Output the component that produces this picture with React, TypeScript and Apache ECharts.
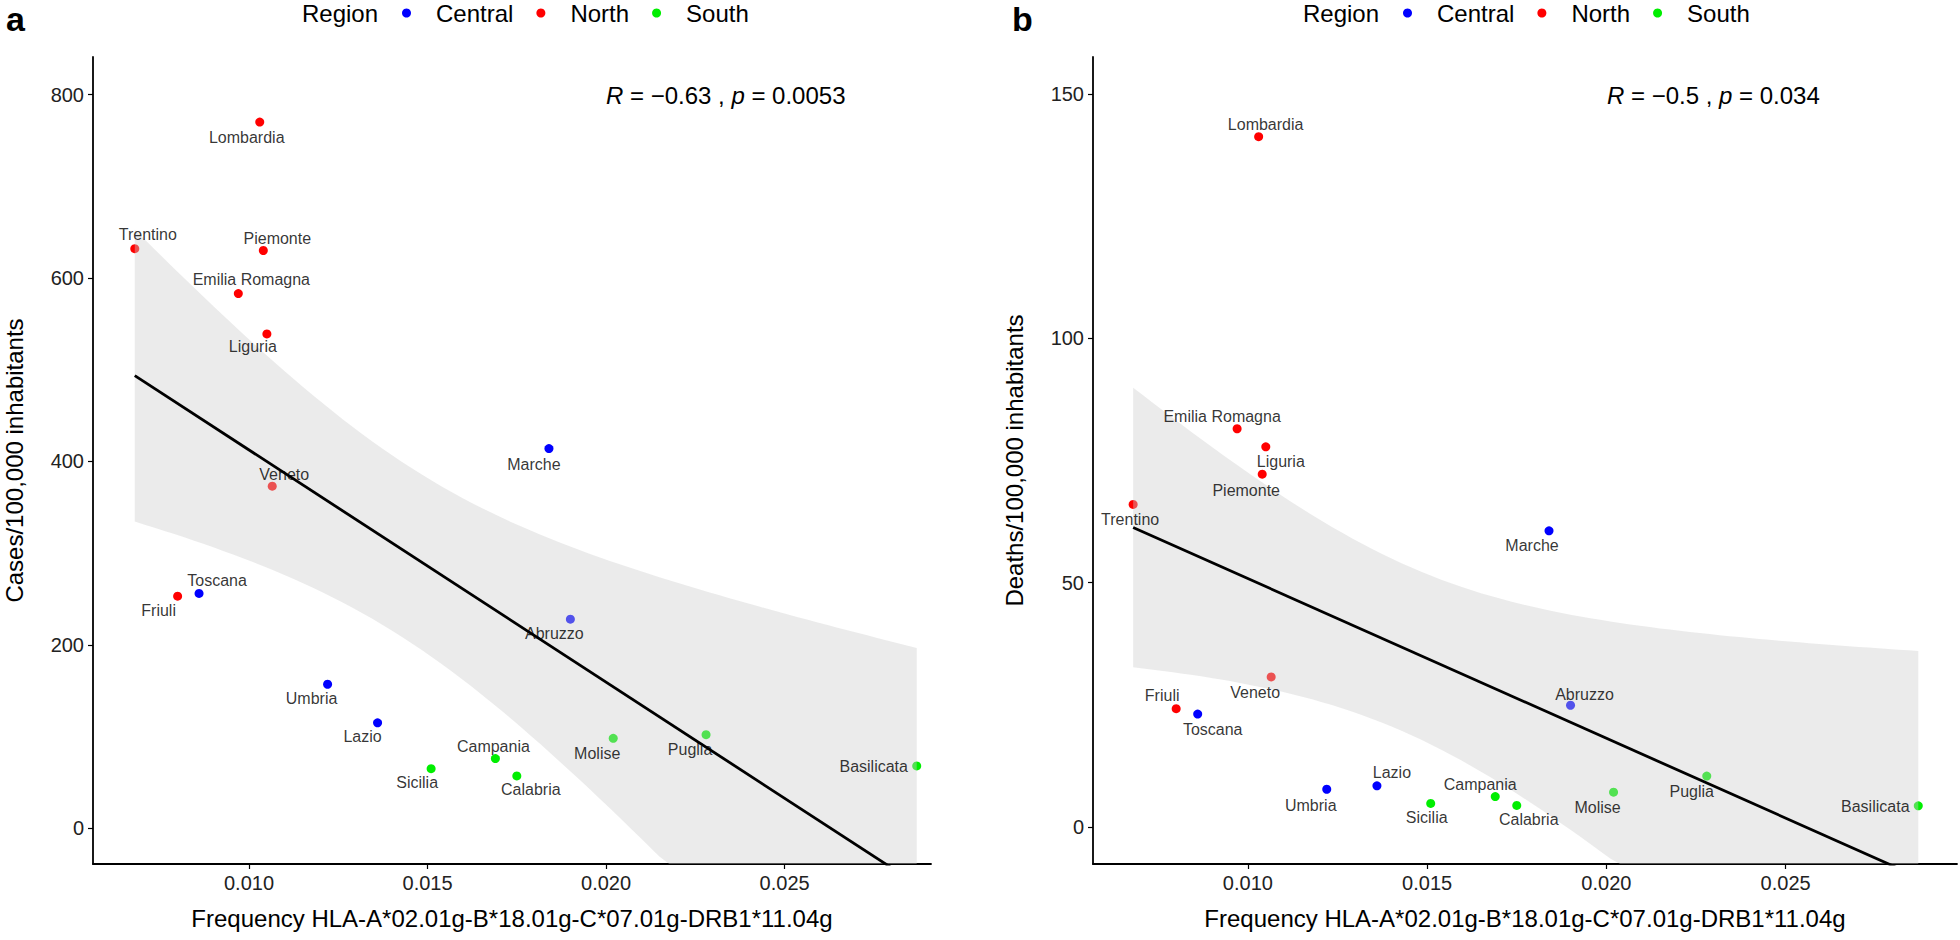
import React, { useEffect, useRef } from "react";
import * as echarts from "echarts";

// ---------------- data ----------------
const regions = [
  "Lombardia", "Trentino", "Piemonte", "Emilia Romagna", "Liguria", "Marche",
  "Veneto", "Toscana", "Friuli", "Abruzzo", "Umbria", "Lazio",
  "Molise", "Puglia", "Campania", "Basilicata", "Sicilia", "Calabria",
];
const regionGroup = [
  "North", "North", "North", "North", "North", "Central",
  "North", "Central", "North", "Central", "Central", "Central",
  "South", "South", "South", "South", "South", "South",
];
const hlaFrequency = [
  0.0103, 0.0068, 0.0104, 0.0097, 0.0105, 0.0184,
  0.01065, 0.0086, 0.008, 0.019, 0.0122, 0.0136,
  0.0202, 0.0228, 0.0169, 0.0287, 0.0151, 0.0175,
];
const casesPer100k = [
  770, 632, 630, 583, 539, 414,
  373, 256, 253, 228, 157, 115,
  98, 102, 76, 68, 65, 57,
];
const deathsPer100k = [
  141.3, 66.0, 72.2, 81.5, 77.8, 60.6,
  30.7, 23.1, 24.2, 24.9, 7.7, 8.4,
  7.1, 10.4, 6.2, 4.3, 4.8, 4.4,
];
const groups = ["Central", "North", "South"];
const xTicks = [0.01, 0.015, 0.02, 0.025];
const casesTicks = [0, 200, 400, 600, 800];
const deathsTicks = [0, 50, 100, 150];
const corrA = { r: "\u22120.63", p: "0.0053" };
const corrB = { r: "\u22120.5", p: "0.034" };

// ---------------- layout / style (not data) ----------------
const FONT = "Liberation Sans, Arial, sans-serif";
const groupColor: Record<string, string> = { Central: "#0000FF", North: "#FF0000", South: "#00EE00" };
const labelOffsetA: Record<string, [number, number]> = {
  Lombardia: [-13, 15], Trentino: [13, -14], Piemonte: [14, -12], "Emilia Romagna": [13, -14],
  Liguria: [-14, 13], Marche: [-15, 16], Veneto: [12, -12], Toscana: [18, -13], Friuli: [-19, 14],
  Abruzzo: [-16, 14], Umbria: [-16, 14], Lazio: [-15, 14], Campania: [-2, -12], Sicilia: [-14, 14],
  Calabria: [14, 14], Molise: [-16, 15], Puglia: [-16, 15], Basilicata: [-43, 1],
};
const labelOffsetB: Record<string, [number, number]> = {
  Lombardia: [7, -12], "Emilia Romagna": [-15, -12], Liguria: [15, 15], Piemonte: [-16, 16],
  Trentino: [-3, 15], Marche: [-17, 15], Veneto: [-16, 16], Friuli: [-14, -13], Toscana: [15, 15],
  Abruzzo: [14, -11], Lazio: [15, -13], Umbria: [-16, 16], Campania: [-15, -12], Sicilia: [-4, 14],
  Calabria: [12, 14], Molise: [-16, 15], Puglia: [-15, 15], Basilicata: [-43, 1],
};

// ---------------- linear fit (geom_smooth method = "lm") ----------------
const T_975_DF16 = 2.1199;
function linearFit(xs: number[], ys: number[]) {
  const n = xs.length;
  const mx = xs.reduce((a, b) => a + b, 0) / n;
  const my = ys.reduce((a, b) => a + b, 0) / n;
  let sxx = 0, sxy = 0, syy = 0;
  for (let i = 0; i < n; i++) {
    sxx += (xs[i] - mx) ** 2;
    sxy += (xs[i] - mx) * (ys[i] - my);
    syy += (ys[i] - my) ** 2;
  }
  const b = sxy / sxx;
  const a = my - b * mx;
  const s = Math.sqrt((syy - b * sxy) / (n - 2));
  return { a, b, s, mx, sxx, n };
}
function fitCurves(xs: number[], ys: number[]) {
  const f = linearFit(xs, ys);
  const lo = Math.min(...xs), hi = Math.max(...xs);
  const rows: number[][] = [];
  const steps = 80;
  for (let i = 0; i < steps; i++) {
    const x = lo + ((hi - lo) * i) / (steps - 1);
    const yh = f.a + f.b * x;
    const se = f.s * Math.sqrt(1 / f.n + (x - f.mx) ** 2 / f.sxx);
    rows.push([x, yh - T_975_DF16 * se, yh + T_975_DF16 * se]);
  }
  const line = [[lo, f.a + f.b * lo], [hi, f.a + f.b * hi]];
  return { rows, line };
}

function buildPanel(idx: number, ys: number[], offsets: Record<string, [number, number]>) {
  const series: any[] = [];
  // points (drawn under the confidence band, as in ggplot)
  groups.forEach((g) => {
    const data: any[] = [];
    regions.forEach((name, i) => {
      if (regionGroup[i] !== g) return;
      data.push({ name, value: [hlaFrequency[i], ys[i]] });
    });
    series.push({
      type: "scatter",
      name: g,
      xAxisIndex: idx,
      yAxisIndex: idx,
      symbol: "circle",
      symbolSize: 9,
      z: 2,
      itemStyle: { color: groupColor[g], opacity: 1 },
      emphasis: { disabled: true },
      data,
    });
  });
  const { rows, line } = fitCurves(hlaFrequency, ys);
  // confidence band
  series.push({
    type: "custom",
    name: "band" + idx,
    xAxisIndex: idx,
    yAxisIndex: idx,
    z: 3,
    clip: true,
    silent: true,
    encode: { x: 0, y: 1 },
    data: rows,
    renderItem: (params: any, api: any) => {
      if (params.dataIndex !== 0) return null;
      const cs = params.coordSys;
      const clampY = (p: number[]) => [p[0], Math.max(cs.y, Math.min(cs.y + cs.height, p[1]))];
      const upper = rows.map((r) => clampY(api.coord([r[0], r[2]])));
      const lower = rows.map((r) => clampY(api.coord([r[0], r[1]]))).reverse();
      return {
        type: "polygon",
        shape: { points: upper.concat(lower) },
        style: { fill: "rgba(204,204,204,0.4)", stroke: null },
      };
    },
  });
  // text labels (above the band, below the fitted line)
  series.push({
    type: "scatter",
    name: "labels" + idx,
    xAxisIndex: idx,
    yAxisIndex: idx,
    symbol: "circle",
    symbolSize: 1,
    z: 4,
    silent: true,
    itemStyle: { color: "rgba(0,0,0,0)" },
    emphasis: { disabled: true },
    label: {
      show: true,
      position: "inside",
      formatter: "{b}",
      color: "#000",
      textBorderWidth: 0,
      fontSize: 16,
      fontFamily: FONT,
    },
    data: regions.map((name, i) => ({
      name,
      value: [hlaFrequency[i], ys[i]],
      label: { offset: offsets[name] || [0, 12] },
    })),
  });
  series.push({
    type: "line",
    name: "fit" + idx,
    xAxisIndex: idx,
    yAxisIndex: idx,
    z: 5,
    clip: true,
    silent: true,
    symbol: "none",
    lineStyle: { color: "#000", width: 2.8 },
    data: line,
  });
  return series;
}

function axisX(idx: number, min: number, max: number) {
  return {
    type: "value",
    gridIndex: idx,
    min,
    max,
    name: "Frequency HLA-A*02.01g-B*18.01g-C*07.01g-DRB1*11.04g",
    nameLocation: "middle",
    nameGap: 42,
    nameTextStyle: { fontSize: 24, color: "#000", fontFamily: FONT },
    axisLine: { show: true, onZero: false, lineStyle: { color: "#000", width: 1.8 } },
    axisTick: { show: true, length: 5, lineStyle: { color: "#000", width: 1.2 }, customValues: xTicks },
    axisLabel: {
      fontSize: 20,
      color: "#222",
      fontFamily: FONT,
      margin: 9,
      customValues: xTicks,
      formatter: (v: number) => v.toFixed(3),
    },
    splitLine: { show: false },
  };
}
function axisY(idx: number, min: number, max: number, ticks: number[], name: string) {
  return {
    type: "value",
    gridIndex: idx,
    min,
    max,
    name,
    nameLocation: "middle",
    nameGap: 67,
    nameTextStyle: { fontSize: 24, color: "#000", fontFamily: FONT },
    axisLine: { show: true, onZero: false, lineStyle: { color: "#000", width: 1.8 } },
    axisTick: { show: true, length: 5, lineStyle: { color: "#000", width: 1.2 }, customValues: ticks },
    axisLabel: { fontSize: 20, color: "#222", fontFamily: FONT, margin: 9, customValues: ticks },
    splitLine: { show: false },
  };
}

function corrText(left: number, c: { r: string; p: string }) {
  return {
    type: "text",
    left,
    top: 83,
    style: {
      text: `{i|R} = ${c.r} , {i|p} = ${c.p}`,
      rich: {
        i: { fontStyle: "italic", fontSize: 24, fontFamily: FONT, fill: "#000" },
      },
      fontSize: 24,
      fontFamily: FONT,
      fill: "#000",
    },
  };
}

export default function App() {
  const ref = useRef<HTMLDivElement>(null);
  useEffect(() => {
    if (!ref.current) return;
    const chart = echarts.init(ref.current, undefined, { renderer: "svg" });
    const legendCommon = {
      data: groups,
      icon: "circle",
      itemWidth: 9,
      itemHeight: 9,
      itemGap: 23,
      selectedMode: false,
      top: 1,
      padding: 0,
      formatter: (name: string) => "\u00a0\u00a0\u00a0" + name,
      textStyle: { fontSize: 24, color: "#000", fontFamily: FONT },
    };
    chart.setOption({
      animation: false,
      backgroundColor: "#fff",
      grid: [
        { left: 93, top: 57, width: 838, height: 807 },
        { left: 1093, top: 57, width: 864, height: 807 },
      ],
      xAxis: [axisX(0, 0.00563, 0.0291), axisX(1, 0.00568, 0.02978)],
      yAxis: [
        axisY(0, -39, 841, casesTicks, "Cases/100,000 inhabitants"),
        axisY(1, -7.6, 157.6, deathsTicks, "Deaths/100,000 inhabitants"),
      ],
      legend: [
        { ...legendCommon, left: 402 },
        { ...legendCommon, left: 1403 },
      ],
      graphic: [
        { type: "text", left: 6, top: 2, style: { text: "a", fontSize: 34, fontWeight: "bold", fontFamily: FONT, fill: "#000" } },
        { type: "text", left: 1012, top: 2, style: { text: "b", fontSize: 34, fontWeight: "bold", fontFamily: FONT, fill: "#000" } },
        { type: "text", left: 302, top: 1, style: { text: "Region", fontSize: 24, fontFamily: FONT, fill: "#000" } },
        { type: "text", left: 1303, top: 1, style: { text: "Region", fontSize: 24, fontFamily: FONT, fill: "#000" } },
        corrText(606, corrA),
        corrText(1607, corrB),
      ],
      series: [
        ...buildPanel(0, casesPer100k, labelOffsetA),
        ...buildPanel(1, deathsPer100k, labelOffsetB),
      ],
    });
    return () => chart.dispose();
  }, []);
  return (
    <div
      ref={ref}
      style={{ position: "fixed", left: 0, top: 0, width: 1960, height: 940, background: "#fff" }}
    />
  );
}
